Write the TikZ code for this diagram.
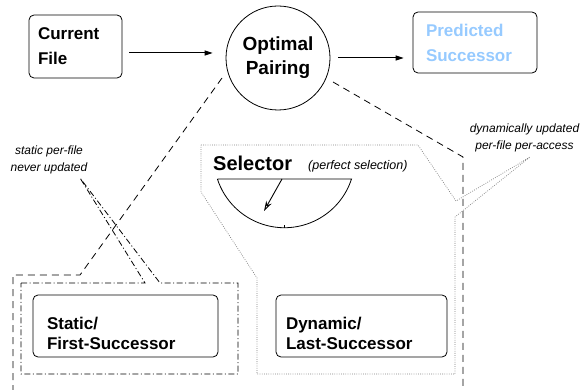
\documentclass[tikz,border=0pt]{standalone}
\usepackage{fontspec}
\setmainfont{Liberation Sans}
\usetikzlibrary{positioning,arrows.meta}
\definecolor{succblue}{RGB}{150,202,255}

\begin{document}
\begin{tikzpicture}[x=1pt,y=-1pt,on grid,auto,
  >={Triangle[length=8pt,width=5pt]},
  box/.style={draw,rounded corners=5pt,line width=0.8pt,align=left,inner ysep=0pt},
  lbl/.style={font=\fontsize{17}{25}\selectfont\bfseries},
  lbllow/.style={font=\fontsize{17}{20}\selectfont\bfseries,minimum height=62pt,text depth=6pt},
  note/.style={font=\fontsize{12}{17}\selectfont\itshape,align=center,inner sep=0pt},
  dashline/.style={line width=0.8pt,dash pattern=on 7pt off 5pt},
  dashdotline/.style={line width=0.8pt,dash pattern=on 6pt off 2.5pt on 1pt off 2.5pt},
  dotline/.style={line width=0.7pt,gray,dash pattern=on 0.8pt off 1.4pt}]
	\useasboundingbox (0,0) rectangle (580,390);

	\node[draw,circle,line width=0.8pt,minimum size=104pt,inner sep=0pt,align=center,
	      font=\fontsize{19}{24}\selectfont\bfseries] (opt_p) at (278,58) {Optimal\\Pairing};
	\node[box,lbl,text width=75pt,inner xsep=9pt,minimum height=63pt] (cur_f)
	      [above left=11.5pt and 202.5pt of opt_p] {Current\\File};
	\node[box,lbl,text width=98pt,inner xsep=13pt,minimum height=61pt,text=succblue] (pred_s)
	      [above right=15.5pt and 197pt of opt_p] {Predicted\\Successor};

	\node[box,lbllow,text width=157pt,inner xsep=14pt] (st_fs) at (125.5,326) {Static/\\First-Successor};
	\node[box,lbllow,text width=151pt,inner xsep=10pt] (dy_ls) [right=236pt of st_fs] {Dynamic/\\Last-Successor};

	\path[->,line width=1pt]
	([yshift=-6.5pt]cur_f.east) edge[shorten <=7pt,shorten >=13pt] ([yshift=-6.5pt]cur_f.east -| opt_p.west)
	(opt_p.east) edge[shorten <=8pt,shorten >=9pt] (opt_p.east -| pred_s.west);

	% regions
	\draw[dashline] (222,78) -- (80,275) -- (13,275) -- (13,390);
	\draw[dashline] (333,82) -- (463,157) -- (463,388);
	\draw[dashdotline] (21,283) -- (145,283) -- (80,178) -- (160,283) -- (238,283) -- (238,374) -- (21,374) -- cycle;
	\draw[dotline] (201,145) -- (418,145) -- (456,201) -- (530,157) -- (455,217) -- (455,374)
	      -- (257,374) -- (257,278) -- (201,192) -- cycle;

	\node[note,anchor=north] (st_note) at (49,145.5) {static per-file\\never updated};
	\node[note,anchor=north] (dy_note) at (524.5,123.2) {dynamically updated\\per-file per-access};

	% selector
	\node[anchor=base west,inner sep=0pt,font=\fontsize{20}{24}\selectfont\bfseries] (sel) at (213,170) {Selector};
	\node[anchor=base west,inner sep=0pt,font=\fontsize{12.5}{15}\selectfont\itshape] (sel_n) at (308,169) {(perfect selection)};
	\draw[line width=0.8pt] (217.5,179) -- (351.5,179) arc[start angle=-18,end angle=-162,radius=70.5pt];
	\draw[line width=0.6pt] (284.5,228) -- (284.5,224.5);
	\draw[line width=0.9pt,-{Stealth[open,length=10pt,width=6pt]}] (282,179) -- (264,211);
\end{tikzpicture}
\end{document}
